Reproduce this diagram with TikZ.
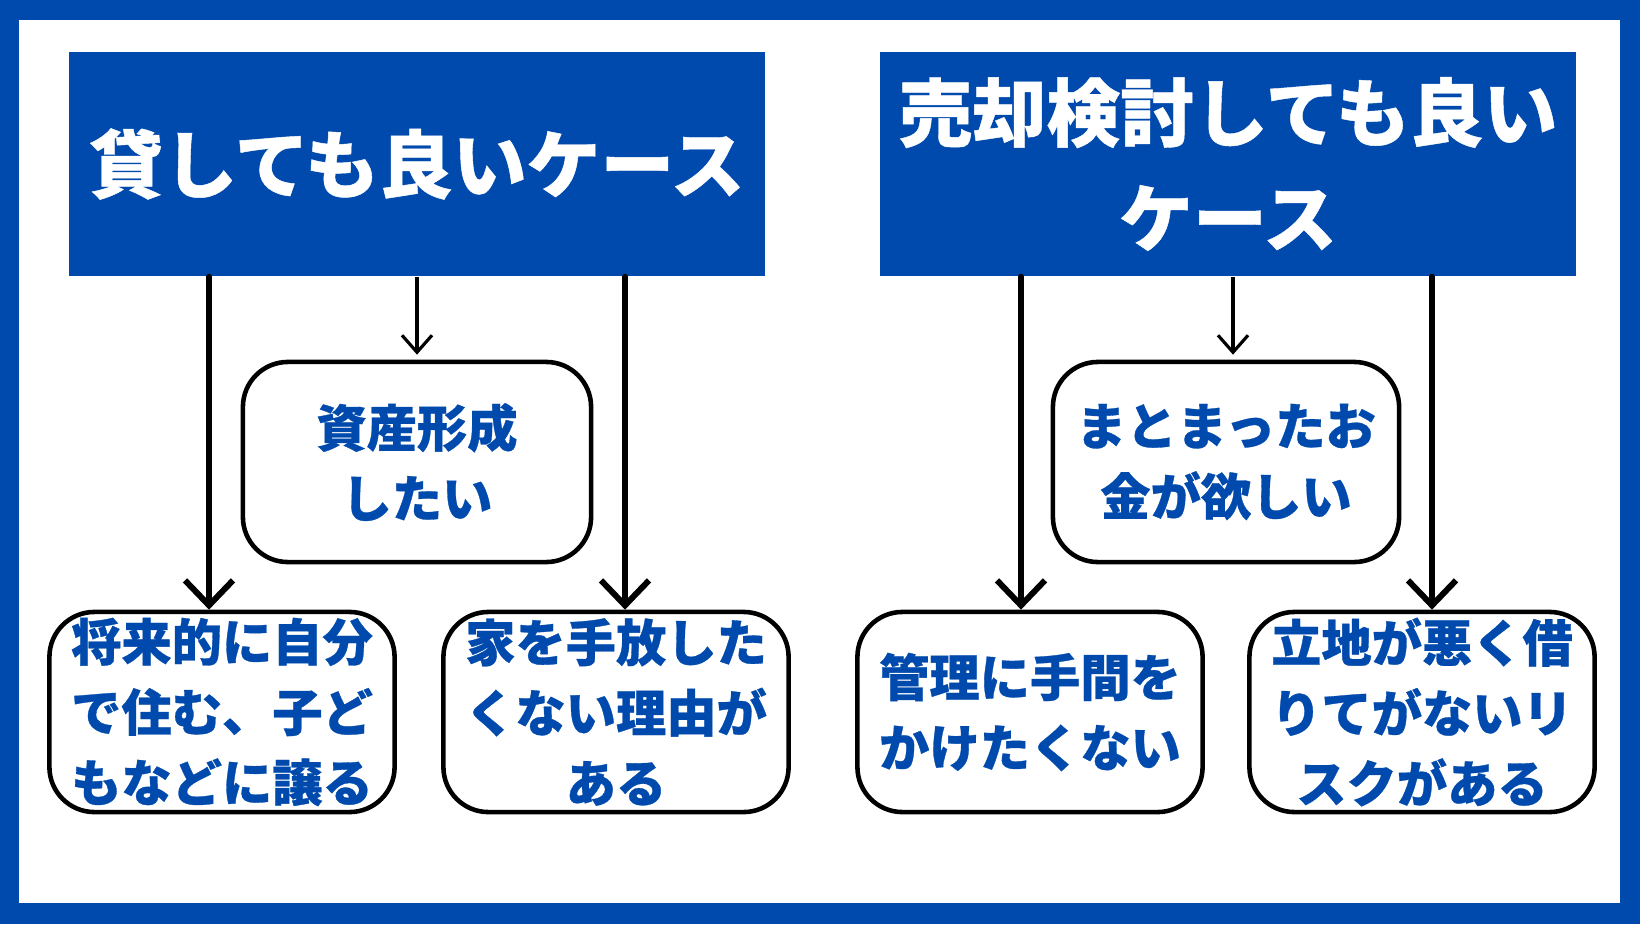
\documentclass[tikz,border=0pt]{standalone}
\usepackage{fontspec}
\usetikzlibrary{arrows.meta,positioning}
\newfontfamily\jpfont{Noto Sans CJK JP}[BoldFeatures={FakeBold=0.6}]
\definecolor{caseblue}{RGB}{0,74,173}

\begin{document}
\begin{tikzpicture}[x=0.01cm,y=-0.01cm,
    titlebox/.style={fill=caseblue,text=white,minimum width=6.96cm,minimum height=2.24cm,inner sep=0pt,align=center,font=\jpfont\bfseries\fontsize{21}{30}\selectfont},
    casebox/.style={draw,line width=1.3pt,rounded corners=0.45cm,fill=white,text=caseblue,minimum height=2cm,inner sep=0pt,align=center,font=\jpfont\bfseries\fontsize{14.3}{20}\selectfont},
    bigarrow/.style={-{Straight Barb[length=0.25cm,width=0.48cm]},line width=1.7pt,line cap=round,line join=round},
    smallarrow/.style={-{Straight Barb[length=0.17cm,width=0.3cm]},line width=0.9pt,shorten >=0.05cm}
]
\fill[caseblue] (0,0) rectangle (1640,924);
\fill[white] (19,20) rectangle (1620,903);

\node[titlebox] (lefttitle) at (417,164) {貸しても良いケース};
\node[titlebox] (righttitle) at (1228,164) {売却検討しても良い\\ケース};

\node[casebox,minimum width=3.48cm] (leftmid) at (417,462) {資産形成\\したい};
\node[casebox,minimum width=3.46cm] (rightmid) at (1226,462) {まとまったお\\金が欲しい};

\foreach \nm/\x/\txt in {kida/222/{将来的に自分\\で住む、子ど\\もなどに譲る},
    kidb/616/{家を手放した\\くない理由が\\ある},
    kidc/1030/{管理に手間を\\かけたくない},
    kidd/1422/{立地が悪く借\\りてがないリ\\スクがある}} {
    \node[casebox,minimum width=3.45cm] (\nm) at (\x,712) {\txt};
}

\draw[smallarrow] (lefttitle.south -| leftmid.north) -- (leftmid.north);
\draw[smallarrow] (righttitle.south -| 1233,0) -- (rightmid.north -| 1233,0);
\draw[bigarrow] (lefttitle.south -| 209,0) -- (kida.north -| 209,0);
\draw[bigarrow] (lefttitle.south -| 625,0) -- (kidb.north -| 625,0);
\draw[bigarrow] (righttitle.south -| 1021,0) -- (kidc.north -| 1021,0);
\draw[bigarrow] (righttitle.south -| 1432,0) -- (kidd.north -| 1432,0);
\end{tikzpicture}
\end{document}
